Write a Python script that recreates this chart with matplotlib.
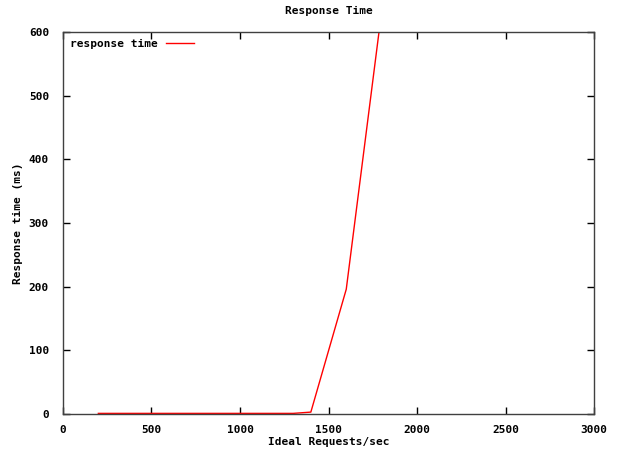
import matplotlib
matplotlib.use('Agg')
import matplotlib.pyplot as plt

plt.rcParams['font.family'] = 'DejaVu Sans Mono'
plt.rcParams['font.weight'] = 'bold'
plt.rcParams['font.size'] = 8

rate = [200, 300, 400, 500, 600, 700, 800, 900, 1000, 1100, 1200, 1300, 1400, 1600, 1800]
resp = [1, 1, 1, 1, 1, 1, 1, 1, 1, 1, 1, 1, 3, 196, 633]

fig = plt.figure(figsize=(6.17, 4.51), dpi=100)
ax = fig.add_axes([0.102, 0.082, 0.861, 0.847])

ax.plot(rate, resp, color='red', lw=1, label='response time')
ax.set_xlim(0, 3000)
ax.set_ylim(0, 600)
ax.set_xticks(range(0, 3001, 500))
ax.set_yticks(range(0, 601, 100))
ax.tick_params(axis='x', direction='in', top=True, length=5, width=1, pad=8)
ax.tick_params(axis='y', direction='in', right=True, length=5, width=1, pad=10)
for s in ax.spines.values():
    s.set_color('#404040')
    s.set_linewidth(1)

ax.set_title('Response Time', fontweight='bold', fontsize=8, pad=13)
ax.set_xlabel('Ideal Requests/sec', fontweight='bold', labelpad=1)
ax.set_ylabel('Response time (ms)', fontweight='bold', labelpad=4)

ax.legend(loc='upper left', frameon=False, markerfirst=False, handlelength=2.5,
          borderaxespad=0.2, handletextpad=0.8)

plt.savefig('out.png', dpi=100)
